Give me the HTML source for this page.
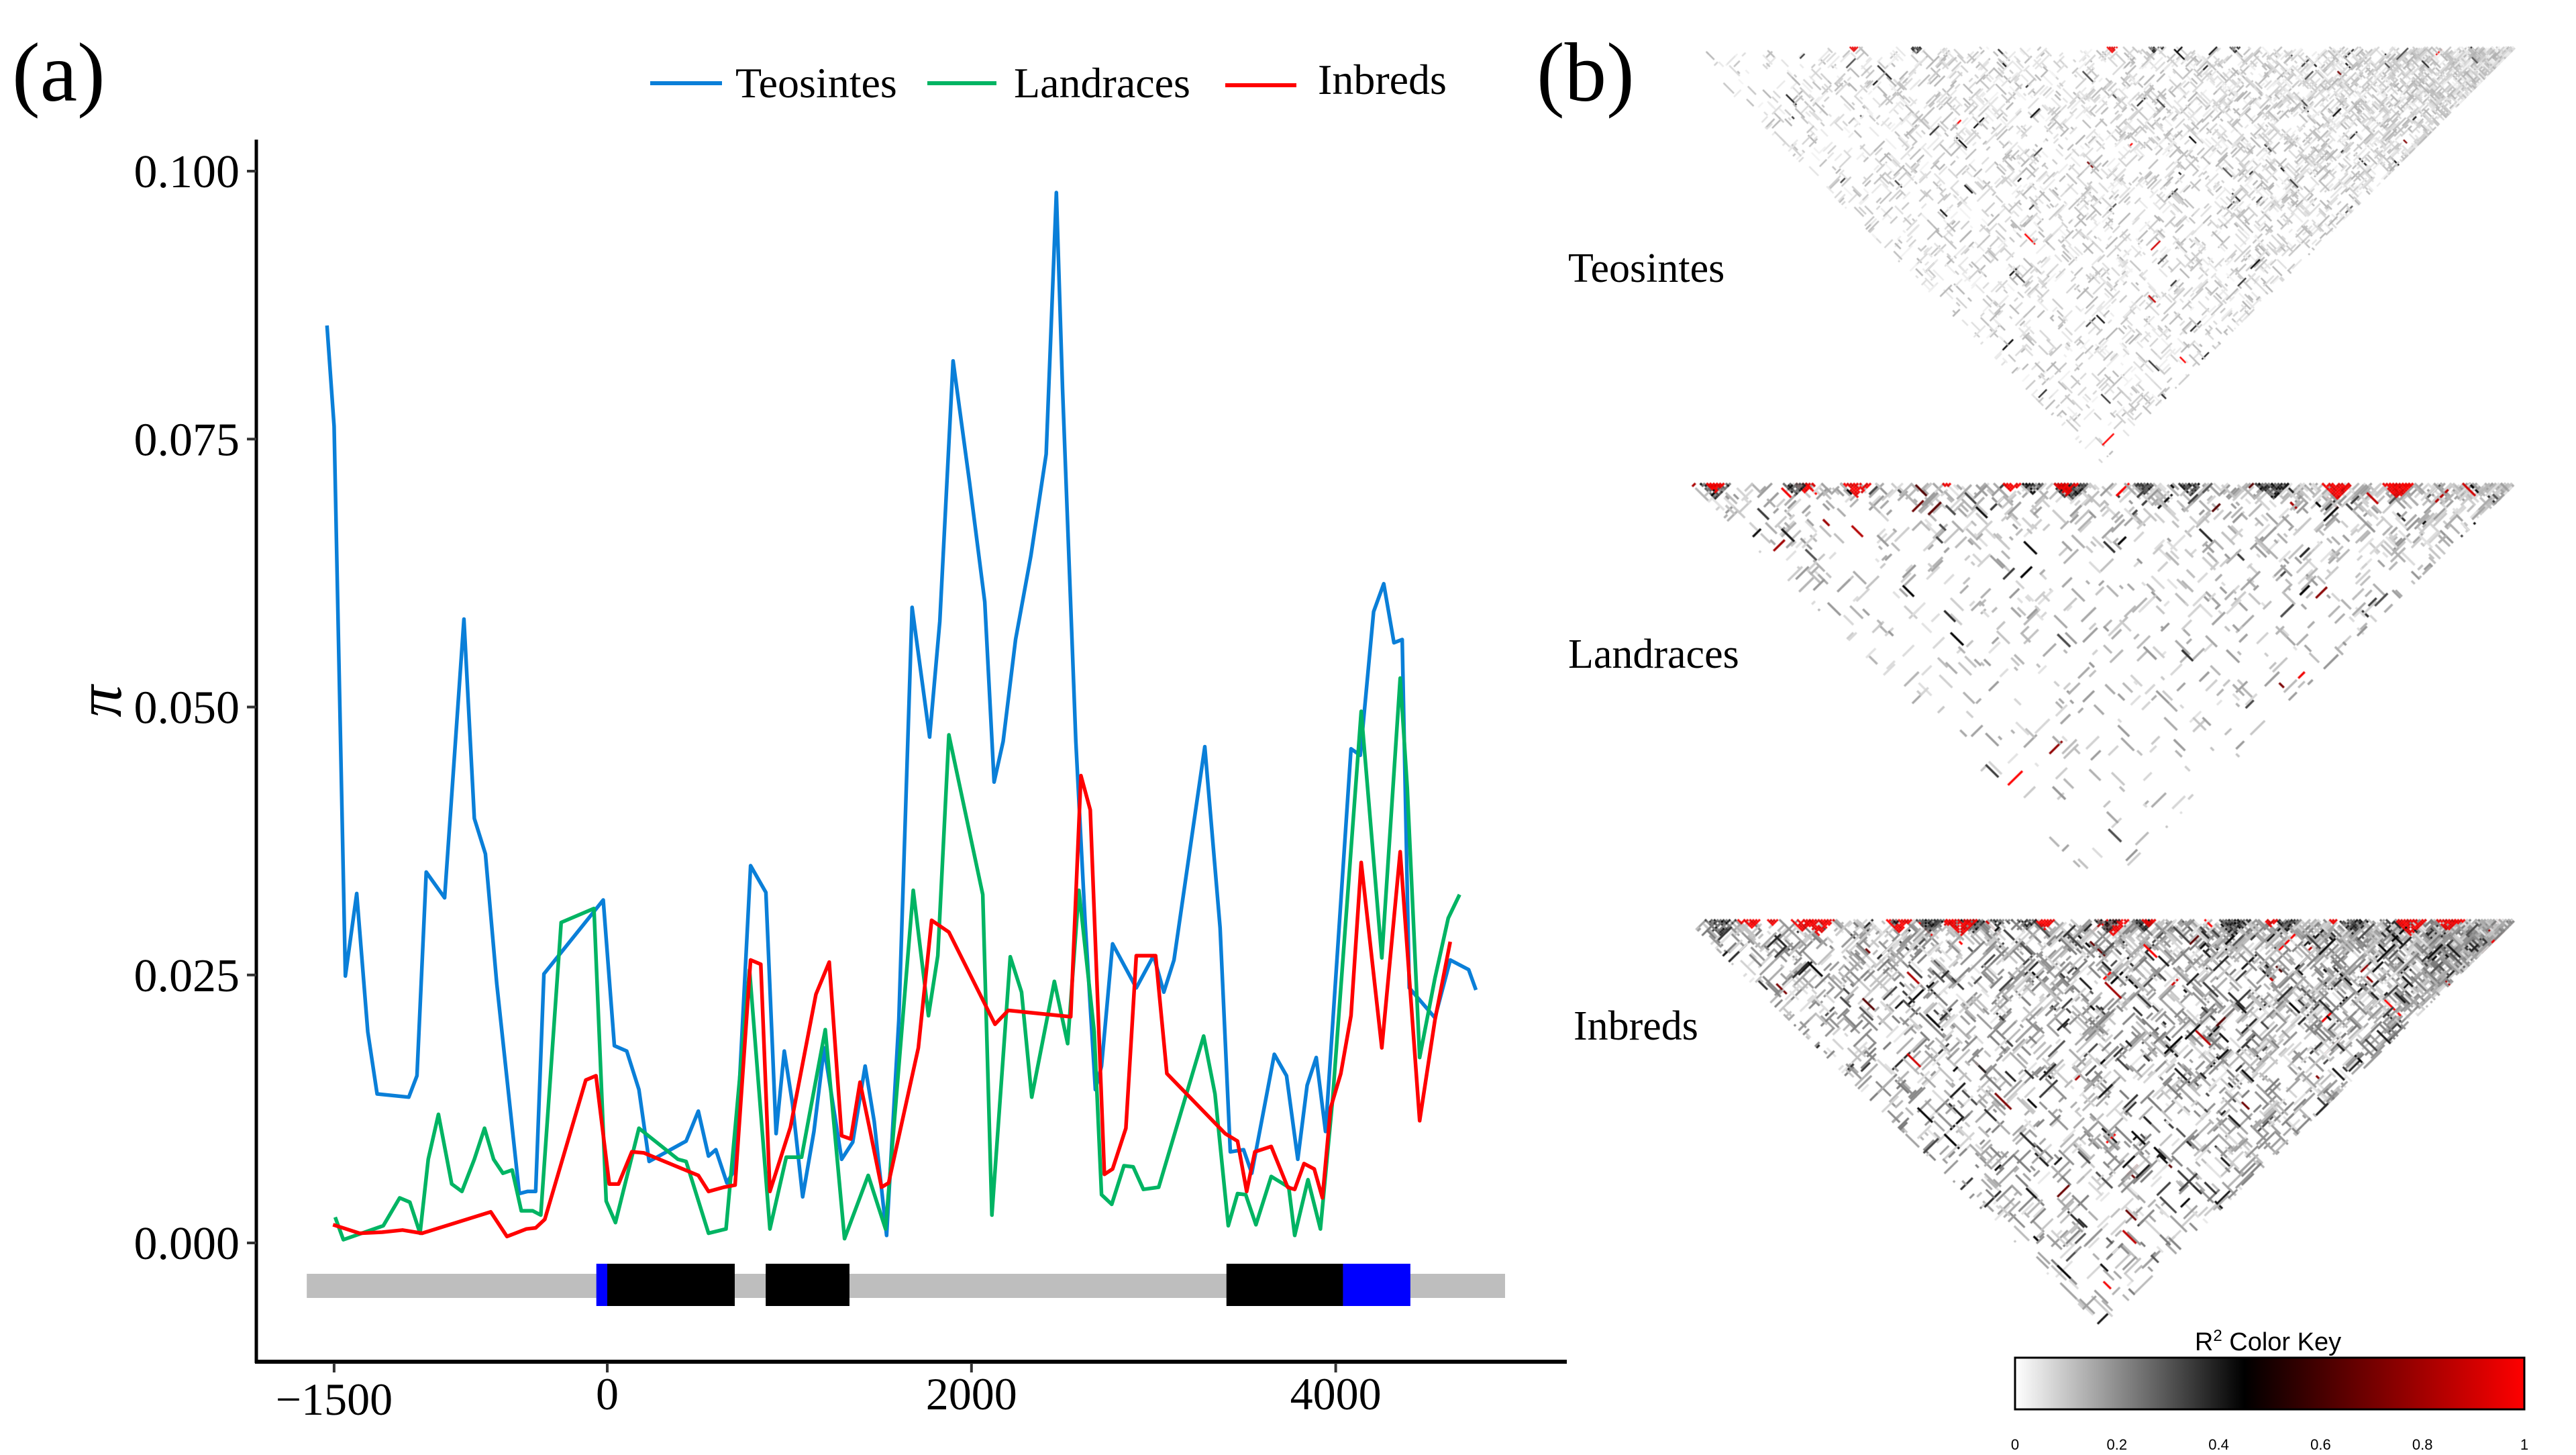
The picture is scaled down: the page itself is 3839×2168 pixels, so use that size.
<!DOCTYPE html>
<html><head><meta charset="utf-8"><style>
html,body{margin:0;padding:0;background:#fff;}
#root{position:relative;width:3839px;height:2168px;overflow:hidden;background:#fff;font-family:"Liberation Serif",serif;}
svg,canvas{position:absolute;left:0;top:0;}
</style></head><body>
<div id="root">
<canvas id="ld" width="3839" height="2168"></canvas>
<svg id="chart" width="3839" height="2168">
  <text x="18" y="150" font-size="125" font-family="Liberation Serif, serif">(a)</text>
  <text x="2290" y="150" font-size="125" font-family="Liberation Serif, serif">(b)</text>
  <g>
    <g><line x1="969" y1="124" x2="1076" y2="124" stroke="#0a7fd8" stroke-width="6"/><text x="1096" y="145" font-size="64">Teosintes</text></g>
    <g><line x1="1382" y1="124" x2="1485" y2="124" stroke="#00b463" stroke-width="6"/><text x="1511" y="145" font-size="64">Landraces</text></g>
    <g><line x1="1826" y1="127" x2="1932" y2="127" stroke="#ff0000" stroke-width="6"/><text x="1964" y="140" font-size="64">Inbreds</text></g>
  </g>
  <text transform="translate(180,1045) rotate(-90)" font-size="95" font-style="italic" text-anchor="middle">π</text>
  <g id="gene"></g>
  <g id="series"></g>
  <g id="axes"></g>
  <g>
    <text x="2337" y="420" font-size="62">Teosintes</text>
    <text x="2337" y="995" font-size="62">Landraces</text>
    <text x="2345" y="1549" font-size="62">Inbreds</text>
  </g>
  <g>
    <defs><linearGradient id="ck" x1="0" x2="1" y1="0" y2="0">
      <stop offset="0" stop-color="#ffffff"/><stop offset="0.45" stop-color="#000000"/><stop offset="1" stop-color="#ff0000"/>
    </linearGradient></defs>
    <text x="3380" y="2012" font-size="38" font-family="Liberation Sans, sans-serif" text-anchor="middle">R<tspan dy="-14" font-size="24">2</tspan><tspan dy="14"> Color Key</tspan></text>
    <rect x="3003" y="2023" width="759" height="77" fill="url(#ck)" stroke="#000" stroke-width="3"/>
    <g id="cktick" font-family="Liberation Sans, sans-serif" font-size="22" text-anchor="middle"></g>
  </g>
</svg>
</div>
<script>
// ---- chart data ----
const teoX=[-1539,-1500,-1438,-1376,-1315,-1264,-1090,-1045,-994,-893,-787,-730,-669,-607,-483,-438,-393,-348,-22,39,107,174,230,433,500,556,596,657,702,787,871,927,972,1017,1073,1135,1191,1287,1348,1416,1466,1534,1601,1674,1770,1826,1899,1989,2073,2124,2174,2242,2326,2410,2466,2500,2573,2624,2680,2714,2775,2905,3000,3056,3112,3281,3365,3421,3494,3539,3663,3730,3792,3843,3893,3944,4084,4135,4208,4264,4320,4365,4404,4545,4629,4730,4770];
const teoY=[0.0856,0.0762,0.0249,0.0326,0.0197,0.0139,0.0136,0.0156,0.0346,0.0322,0.0582,0.0396,0.0363,0.0242,0.0046,0.0048,0.0048,0.0251,0.0320,0.0184,0.0179,0.0143,0.0076,0.0095,0.0123,0.0081,0.0087,0.0056,0.0069,0.0352,0.0327,0.0102,0.0179,0.0130,0.0043,0.0104,0.0182,0.0078,0.0094,0.0165,0.0113,0.0007,0.0208,0.0593,0.0472,0.0580,0.0823,0.0710,0.0598,0.0430,0.0468,0.0563,0.0641,0.0736,0.0980,0.0797,0.0468,0.0299,0.0143,0.0165,0.0279,0.0238,0.0268,0.0234,0.0264,0.0463,0.0294,0.0085,0.0087,0.0065,0.0176,0.0156,0.0078,0.0147,0.0173,0.0104,0.0461,0.0455,0.0589,0.0615,0.0560,0.0563,0.0238,0.0210,0.0264,0.0255,0.0236];
const lanX=[-1494,-1449,-1230,-1140,-1084,-1028,-983,-927,-854,-798,-730,-674,-624,-573,-522,-472,-410,-365,-253,-73,-6,45,174,388,433,556,652,781,893,983,1067,1197,1303,1433,1528,1680,1764,1815,1876,2062,2112,2213,2275,2331,2455,2528,2590,2674,2714,2770,2837,2888,2944,3028,3275,3337,3410,3461,3506,3562,3646,3742,3775,3848,3916,3983,4140,4253,4354,4393,4461,4545,4618,4680];
const lanY=[0.0024,0.0003,0.0016,0.0042,0.0038,0.0009,0.0078,0.0120,0.0055,0.0048,0.0078,0.0107,0.0078,0.0065,0.0068,0.0030,0.0030,0.0026,0.0299,0.0312,0.0039,0.0019,0.0107,0.0078,0.0076,0.0009,0.0013,0.0255,0.0013,0.0080,0.0080,0.0199,0.0004,0.0063,0.0013,0.0329,0.0212,0.0268,0.0474,0.0325,0.0026,0.0267,0.0234,0.0136,0.0244,0.0186,0.0329,0.0197,0.0045,0.0036,0.0072,0.0071,0.0050,0.0052,0.0193,0.0139,0.0016,0.0046,0.0045,0.0017,0.0062,0.0052,0.0007,0.0059,0.0013,0.0134,0.0496,0.0266,0.0527,0.0424,0.0173,0.0247,0.0303,0.0325];
const inbX=[-1506,-1360,-1236,-1124,-1017,-640,-551,-444,-393,-343,-118,-62,11,62,135,202,500,556,640,702,787,843,893,1006,1146,1219,1287,1337,1388,1444,1506,1545,1708,1781,1876,2129,2202,2545,2601,2652,2730,2775,2848,2905,3011,3073,3393,3461,3511,3556,3646,3736,3775,3826,3882,3927,3972,4028,4084,4140,4253,4354,4461,4545,4629];
const inbY=[0.0017,0.0009,0.0010,0.0012,0.0009,0.0029,0.0006,0.0013,0.0014,0.0022,0.0152,0.0156,0.0055,0.0055,0.0085,0.0084,0.0063,0.0048,0.0052,0.0054,0.0264,0.0260,0.0048,0.0108,0.0232,0.0262,0.0100,0.0097,0.0150,0.0104,0.0052,0.0056,0.0182,0.0301,0.0290,0.0204,0.0217,0.0211,0.0436,0.0404,0.0064,0.0069,0.0107,0.0268,0.0268,0.0158,0.0102,0.0095,0.0048,0.0085,0.0090,0.0052,0.0050,0.0074,0.0069,0.0042,0.0126,0.0158,0.0212,0.0355,0.0182,0.0365,0.0114,0.0208,0.0281];
const xTicks=[-1500,0,2000,4000];
const yTicks=[0,0.025,0.05,0.075,0.1];
const yTickLabels=["0.000","0.025","0.050","0.075","0.100"];
const geneSpan=[-1650,4930];
const utrStart=[-60,4040], utrEnd=[0,4410];
const exonStart=[0,870,3400], exonEnd=[700,1330,4040];
const keyTicks=["0","0.2","0.4","0.6","0.8","1"];

const NS="http://www.w3.org/2000/svg";
const sx=v=>905+v*0.2714;
const sy=v=>1852-v/0.1*1597;
function mk(tag,attrs,parent){const e=document.createElementNS(NS,tag);for(const k in attrs)e.setAttribute(k,attrs[k]);parent.appendChild(e);return e;}

const gene=document.getElementById('gene');
let r=mk('rect',{x:sx(geneSpan[0]),y:1898,width:sx(geneSpan[1])-sx(geneSpan[0]),height:36,fill:'#bebebe'},gene);


for(let i=0;i<utrStart.length;i++){
  const e=mk('rect',{x:sx(utrStart[i]),y:1883,width:sx(utrEnd[i])-sx(utrStart[i]),height:63,fill:'#0000ff'},gene);
  
  
}
for(let i=0;i<exonStart.length;i++){
  const e=mk('rect',{x:sx(exonStart[i]),y:1883,width:sx(exonEnd[i])-sx(exonStart[i]),height:63,fill:'#000'},gene);
  
  
}

const series=document.getElementById('series');
function line(xs,ys,color,name){
  const d=xs.map((x,i)=>(i?'L':'M')+sx(x).toFixed(1)+','+sy(ys[i]).toFixed(1)).join('');
  const p=mk('path',{d:d,fill:'none',stroke:color,'stroke-width':5.5,'stroke-linejoin':'round'},series);
  
  
}
line(teoX,teoY,'#0a7fd8','teosintes-line');
line(lanX,lanY,'#00b463','landraces-line');
line(inbX,inbY,'#ff0000','inbreds-line');

const axes=document.getElementById('axes');
let a=mk('line',{x1:382,y1:208,x2:382,y2:2031,stroke:'#000','stroke-width':5},axes);


a=mk('line',{x1:380,y1:2029,x2:2335,y2:2029,stroke:'#000','stroke-width':6},axes);


yTicks.forEach((v,i)=>{
  mk('line',{x1:368,y1:sy(v),x2:382,y2:sy(v),stroke:'#333','stroke-width':4},axes);
  const t=mk('text',{x:357,y:sy(v)+24,'font-size':70,'text-anchor':'end'},axes);
  t.textContent=yTickLabels[i];
  
  
});
xTicks.forEach(v=>{
  mk('line',{x1:sx(v),y1:2031,x2:sx(v),y2:2045,stroke:'#333','stroke-width':4},axes);
  const t=mk('text',{x:sx(v),y:v<0?2108:2100,'font-size':68,'text-anchor':'middle'},axes);
  t.textContent=v<0?'\u2212'+Math.abs(v):String(v);
  
  
});
const ck=document.getElementById('cktick');
keyTicks.forEach((s,i)=>{
  const t=mk('text',{x:3003+i*151.8,y:2160},ck);
  t.textContent=s;
  
  
});

// ---- LD heatmaps (texture) ----
let seed=12345;
function rnd(){seed=(seed*1664525+1013904223)>>>0;return seed/4294967296;}
function col(v){
  if(v<0.45){const g=Math.round(255*(1-v/0.45));return 'rgb('+g+','+g+','+g+')';}
  const rr=Math.round(255*Math.min(1,(v-0.45)/0.5));return 'rgb('+rr+',0,0)';
}
const ctx=document.getElementById('ld').getContext('2d');
function sampleV(c){
  const u=rnd();
  if(u<c.redp)return 0.6+0.4*rnd();
  if(u<c.redp+c.dark)return 0.3+0.15*rnd();
  return c.lo+c.hi*rnd();
}
function panel(L,T,W,H,N,c){
  ctx.setTransform(W/(2*N),-H/N,W/(2*N),H/N,L,T);
  for(let k=0;k<c.runs;k++){
    const i=Math.floor(rnd()*(N-2));
    const d=1+Math.floor(Math.pow(rnd(),c.pow)*(N-i-1));
    const j=i+d; if(j>=N)continue;
    const len=2+Math.floor(rnd()*c.len);
    const v=sampleV(c);
    ctx.fillStyle=col(v);
    if(rnd()<0.5){
      const j2=Math.min(N,j+len); ctx.fillRect(i,j,1,j2-j);
    }else{
      const i2=Math.max(0,i-len); ctx.fillRect(i2,j,i-i2+1,1);
    }
  }
  for(let k=0;k<c.blocks;k++){
    const i0=Math.floor(rnd()*(N-4));
    const s=3+Math.floor(rnd()*c.bsize);
    const red=rnd()<c.bred;
    for(let i=i0;i<Math.min(N,i0+s);i++)for(let j=i+1;j<Math.min(N,i0+s);j++){
      if(rnd()<0.15)continue;
      ctx.fillStyle=col(red?0.85+0.15*rnd():0.2+0.25*rnd());
      ctx.fillRect(i,j,1,1);
    }
  }
  ctx.setTransform(1,0,0,1,0,0);
}
panel(2509,69,1243,623,360,{runs:4500,pow:1.0,len:8,redp:0.002,dark:0.02,lo:0.02,hi:0.12,blocks:6,bsize:8,bred:0.3});
panel(2516,719,1236,609,260,{runs:1300,pow:2.0,len:7,redp:0.02,dark:0.05,lo:0.05,hi:0.14,blocks:22,bsize:9,bred:0.55});
panel(2511,1369,1241,609,280,{runs:3600,pow:1.4,len:10,redp:0.015,dark:0.1,lo:0.04,hi:0.2,blocks:34,bsize:10,bred:0.5});
</script>
</body></html>
